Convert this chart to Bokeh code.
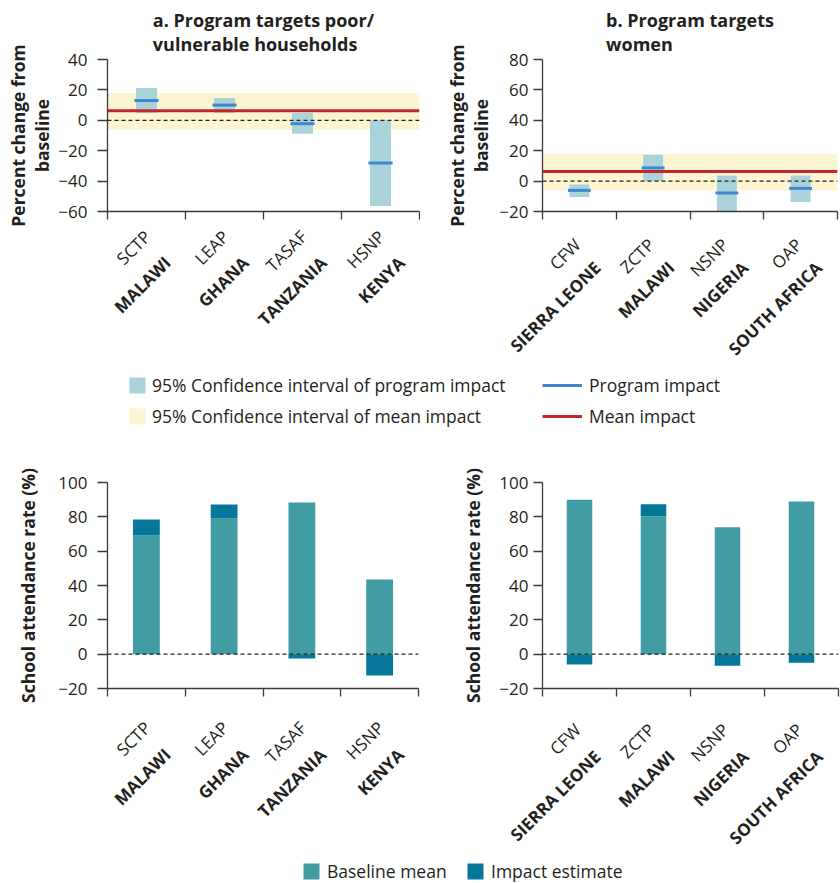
import math
from bokeh.plotting import figure
from bokeh.models import (ColumnDataSource, FixedTicker, Range1d, Span,
                          BoxAnnotation, Legend, LegendItem, Title, LinearAxis,
                          CustomLabelingPolicy)
from bokeh.layouts import column, row
from bokeh.embed import file_html
from bokeh.resources import INLINE

FONT = "Open Sans"
TXT = "#231f20"
AXC = "#3a3a3a"
CI_COLOR = "#aad3d9"
BAND_COLOR = "#fdf4d2"
IMPACT_LINE = "#3f88cf"
MEAN_LINE = "#c1272d"
BASE_COLOR = "#429ca3"
EST_COLOR = "#05779a"

# ---------------- data ----------------
programs_a = ["SCTP", "LEAP", "TASAF", "HSNP"]
countries_a = ["MALAWI", "GHANA", "TANZANIA", "KENYA"]
impact_a = [13.0, 10.0, -2.2, -28.1]
ci_low_a = [4.8, 4.8, -8.9, -56.3]
ci_high_a = [21.2, 14.7, 4.8, 0.0]

programs_b = ["CFW", "ZCTP", "NSNP", "OAP"]
countries_b = ["SIERRA LEONE", "MALAWI", "NIGERIA", "SOUTH AFRICA"]
impact_b = [-6.1, 8.7, -7.8, -4.8]
ci_low_b = [-10.4, 0.0, -20.0, -13.7]
ci_high_b = [-2.2, 17.4, 3.7, 3.7]

mean_impact = 6.3
mean_ci_low = -6.2
mean_ci_high = 18.0

baseline_a = [69.1, 79.0, 88.3, 43.5]
estimate_a = [9.3, 8.2, -2.5, -12.4]
baseline_b = [90.0, 80.3, 73.9, 89.0]
estimate_b = [-6.0, 7.0, -6.8, -5.0]

yticks_top_a = [-60, -40, -20, 0, 20, 40]
yticks_top_b = [-20, 0, 20, 40, 60, 80]
yticks_bottom = [-20, 0, 20, 40, 60, 80, 100]

title_a = "a. Program targets poor/\nvulnerable households"
title_b = "b. Program targets\nwomen"
ylabel_top = "Percent change from\nbaseline"
ylabel_bottom = "School attendance rate (%)"

legend_top_labels = ["95% Confidence interval of program impact",
                     "95% Confidence interval of mean impact",
                     "Program impact", "Mean impact"]
legend_bottom_labels = ["Baseline mean", "Impact estimate"]

# page layout (pixels)
TOP_H = 371
LEG1_H = 460 - TOP_H
BOT_H = 400
LEG2_H = 883 - 460 - BOT_H

NO_LABELS = CustomLabelingPolicy(code="""
for (const i of indices) { indices.unset(i) }
return indices
""")


def tick_label(t):
    return ("\u2212" + str(abs(t))) if t < 0 else str(t)


def base_fig(width, height, n, yr, borders, title=None):
    l, r, t, b = borders
    p = figure(width=width, height=height, x_range=Range1d(0, n),
               y_range=Range1d(yr[0], yr[1]), output_backend="svg",
               toolbar_location=None, tools="", title=title,
               min_border_left=l, min_border_right=r,
               min_border_top=t, min_border_bottom=b)
    p.outline_line_color = None
    p.grid.visible = False
    p.background_fill_color = "white"
    p.border_fill_color = "white"
    return p


def style_axes(p, n, yticks, ylabel, ylab_standoff, ytick_out, ylab_std):
    xa = p.xaxis[0]
    xa.ticker = FixedTicker(ticks=list(range(n + 1)))
    xa.major_label_policy = NO_LABELS
    xa.major_label_text_font_size = "1px"
    xa.major_label_standoff = 0
    xa.major_tick_out = 8
    xa.major_tick_in = 0
    xa.minor_tick_out = 0
    xa.minor_tick_in = 0
    xa.axis_line_color = AXC
    xa.axis_line_width = 1.3
    xa.major_tick_line_color = AXC
    xa.major_tick_line_width = 1.3

    ya = p.yaxis[0]
    ya.ticker = FixedTicker(ticks=yticks)
    ya.major_label_overrides = {t: tick_label(t) for t in yticks}
    ya.major_tick_out = ytick_out
    ya.major_tick_in = 0
    ya.minor_tick_out = 0
    ya.minor_tick_in = 0
    ya.axis_line_color = AXC
    ya.axis_line_width = 1.3
    ya.major_tick_line_color = AXC
    ya.major_tick_line_width = 1.3
    ya.major_label_text_font = FONT
    ya.major_label_text_font_size = "17px"
    ya.major_label_text_color = TXT
    ya.major_label_standoff = ylab_std
    ya.axis_label = ylabel
    ya.axis_label_text_font = FONT
    ya.axis_label_text_font_size = "17.5px"
    ya.axis_label_text_font_style = "bold"
    ya.axis_label_text_color = TXT
    ya.axis_label_text_line_height = 1.02
    ya.axis_label_standoff = ylab_standoff


def add_label_axes(p, n, frame_w, programs, countries, xoff, s_prog, s_ctry):
    # two extra category axes below the chart: program names (regular) and
    # country names (bold), both slanted at 45 degrees
    cat = frame_w / n
    centers = [i + 0.5 for i in range(n)]
    p.extra_x_ranges = {
        "prog": Range1d(-xoff / cat, n - xoff / cat),
        "ctry": Range1d(-(xoff + 20) / cat, n - (xoff + 20) / cat),
    }
    for name, labels, std, style in (("prog", programs, s_prog, "normal"),
                                     ("ctry", countries, s_ctry, "bold")):
        ax = LinearAxis(x_range_name=name, ticker=FixedTicker(ticks=centers),
                        major_label_overrides={c: lab for c, lab in zip(centers, labels)},
                        major_label_orientation=math.pi / 4,
                        major_label_standoff=std,
                        major_tick_out=0, major_tick_in=0,
                        minor_tick_out=0, minor_tick_in=0,
                        axis_line_color=None, major_tick_line_color=None,
                        minor_tick_line_color=None,
                        major_label_text_font=FONT,
                        major_label_text_font_size="17px",
                        major_label_text_font_style=style,
                        major_label_text_color=TXT)
        p.add_layout(ax, "below")


def top_panel(borders, title, programs, countries, impact, lo, hi, yticks,
              ylab_standoff, ytick_out, ylab_std, xoff, s_prog, s_ctry):
    n = len(programs)
    t = Title(text=title, align="center", text_font=FONT, text_font_size="18px",
              text_font_style="bold", text_color=TXT, standoff=6,
              text_line_height=1.02)
    p = base_fig(420, TOP_H, n, (yticks[0], yticks[-1]), borders, title=t)

    p.add_layout(BoxAnnotation(bottom=mean_ci_low, top=mean_ci_high,
                               fill_color=BAND_COLOR, fill_alpha=1,
                               line_color=None, level="underlay"))
    xs = [i + 0.5 for i in range(n)]
    src = ColumnDataSource(dict(x=xs, lo=lo, hi=hi, imp=impact,
                                x0=[x - 0.155 for x in xs],
                                x1=[x + 0.155 for x in xs]))
    p.vbar(x="x", bottom="lo", top="hi", width=0.27, source=src,
           fill_color=CI_COLOR, line_color=None)
    p.add_layout(Span(location=mean_impact, dimension="width",
                      line_color=MEAN_LINE, line_width=3))
    p.add_layout(Span(location=0, dimension="width", line_color="#222222",
                      line_width=1.3, line_dash="4 3"))
    seg = p.segment(x0="x0", y0="imp", x1="x1", y1="imp", source=src,
                    line_color=IMPACT_LINE, line_width=3)
    seg.level = "overlay"
    style_axes(p, n, yticks, ylabel_top, ylab_standoff, ytick_out, ylab_std)
    add_label_axes(p, n, 420 - borders[0] - borders[1], programs, countries,
                   xoff, s_prog, s_ctry)
    return p


def bottom_panel(borders, programs, countries, baseline, estimate,
                 ylab_standoff, ytick_out, ylab_std, xoff, s_prog, s_ctry):
    n = len(programs)
    p = base_fig(420, BOT_H, n, (yticks_bottom[0], yticks_bottom[-1]), borders)
    xs = [i + 0.5 for i in range(n)]
    est_bottom = [b if e > 0 else 0 for b, e in zip(baseline, estimate)]
    est_top = [b + e if e > 0 else e for b, e in zip(baseline, estimate)]
    src = ColumnDataSource(dict(x=xs, base=baseline, eb=est_bottom, et=est_top))
    p.vbar(x="x", bottom=0, top="base", width=0.345, source=src,
           fill_color=BASE_COLOR, line_color=None)
    p.vbar(x="x", bottom="eb", top="et", width=0.345, source=src,
           fill_color=EST_COLOR, line_color=None)
    p.add_layout(Span(location=0, dimension="width", line_color="#222222",
                      line_width=1.3, line_dash="4 3"))
    style_axes(p, n, yticks_bottom, ylabel_bottom, ylab_standoff, ytick_out, ylab_std)
    add_label_axes(p, n, 420 - borders[0] - borders[1], programs, countries,
                   xoff, s_prog, s_ctry)
    return p


pA = top_panel((107, 1, 58, TOP_H - 212), title_a, programs_a, countries_a,
               impact_a, ci_low_a, ci_high_a, yticks_top_a, 1, 10, 10, 1, 10, -28)
pB = top_panel((122, 3, 59, TOP_H - 212), title_b, programs_b, countries_b,
               impact_b, ci_low_b, ci_high_b, yticks_top_b, 3, 9, 5, -2, 18, -28)
pC = bottom_panel((107, 2, 22, BOT_H - 228), programs_a, countries_a, baseline_a,
                  estimate_a, 15, 10, 10, 1, 24, -27)
pD = bottom_panel((122, 2, 21, BOT_H - 228), programs_b, countries_b, baseline_b,
                  estimate_b, 11, 9, 5, -2, 26, -24)


def legend_fig(height):
    p = figure(width=840, height=height, x_range=Range1d(0, 1),
               y_range=Range1d(0, 1), output_backend="svg",
               toolbar_location=None, tools="", title=None,
               x_axis_type=None, y_axis_type=None, min_border=0)
    p.outline_line_color = None
    p.grid.visible = False
    p.background_fill_color = "white"
    p.border_fill_color = "white"
    return p


def add_leg(fig, r, label, loc, gw, gh, standoff):
    lg = Legend(items=[LegendItem(label=label, renderers=[r])], location=loc,
                glyph_width=gw, glyph_height=gh, label_standoff=standoff,
                padding=0, margin=0, spacing=0, border_line_color=None,
                background_fill_alpha=0, label_text_font=FONT,
                label_text_font_size="17.5px", label_text_color=TXT,
                label_height=gh)
    fig.add_layout(lg)


# legend proxies: one glyph each, placed outside the visible range
pL1 = legend_fig(LEG1_H)
r_ci = pL1.vbar(x=[-5], top=[-5], width=1, fill_color=CI_COLOR, line_color=None)
r_band = pL1.vbar(x=[-5], top=[-5], width=1, fill_color=BAND_COLOR, line_color=None)
r_imp = pL1.line(x=[-5, -4], y=[-5, -5], line_color=IMPACT_LINE, line_width=3)
r_mean = pL1.line(x=[-5, -4], y=[-5, -5], line_color=MEAN_LINE, line_width=3)
add_leg(pL1, r_ci, legend_top_labels[0], (127, 63), 20, 20, 5)
add_leg(pL1, r_band, legend_top_labels[1], (127, 32), 20, 20, 5)
add_leg(pL1, r_imp, legend_top_labels[2], (542, 63), 40, 20, 7)
add_leg(pL1, r_mean, legend_top_labels[3], (542, 32), 40, 20, 7)

pL2 = legend_fig(LEG2_H)
r_base = pL2.vbar(x=[-5], top=[-5], width=1, fill_color=BASE_COLOR, line_color=None)
r_est = pL2.vbar(x=[-5], top=[-5], width=1, fill_color=EST_COLOR, line_color=None)
add_leg(pL2, r_base, legend_bottom_labels[0], (301, 0), 20, 20, 6)
add_leg(pL2, r_est, legend_bottom_labels[1], (465, 0), 20, 20, 6)

layout = column(row(pA, pB), pL1, row(pC, pD), pL2)
open("out.html", "w").write(file_html(layout, INLINE))
